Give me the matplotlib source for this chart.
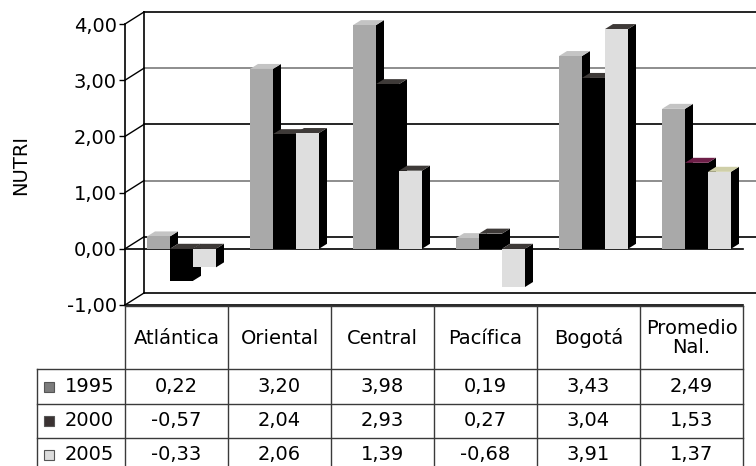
import numpy as np
import matplotlib.pyplot as plt
from matplotlib.patches import Polygon, Rectangle

plt.rcParams['font.family'] = ['DejaVu Sans']

regiones = ["Atlántica", "Oriental", "Central", "Pacífica", "Bogotá", "Promedio\nNal."]
anios = ["1995", "2000", "2005"]
v1995 = [0.22, 3.20, 3.98, 0.19, 3.43, 2.49]
v2000 = [-0.57, 2.04, 2.93, 0.27, 3.04, 1.53]
v2005 = [-0.33, 2.06, 1.39, -0.68, 3.91, 1.37]
yticks = [-1, 0, 1, 2, 3, 4]

series = [v1995, v2000, v2005]
front_col = ['#a9a9a9', '#000000', '#dedede']
top_col = ['#c4c4c4', '#3e3a38', '#3e3a38']
leg_col = ['#7c7c7c', '#3a3232', '#dcdcdc']
# odd coloured tops on the last group
top_fix = {(1, 5): '#6e1f48', (2, 5): '#cfcfa8'}


def fmt(v):
    return f"{v:.2f}".replace('.', ',')


W, H = 756, 466
fig = plt.figure(figsize=(W / 100, H / 100), dpi=100)

# front plane: x 125..743 px, y 4 -> 24 px, -1 -> 305 px
ax = fig.add_axes([125 / W, 1 - 305 / H, 618 / W, 281 / H])
ax.set_xlim(0, 6)
ax.set_ylim(-1, 4)

px_x = 618 / 6
px_y = 281 / 5
bw = 23 / px_x
off0 = 22 / px_x
ddx, ddy = 8 / px_x, 5 / px_y      # bar depth
wdx, wdy = 19 / px_x, 12 / px_y    # wall depth

# walls
for t in yticks:
    c = '#000000' if t % 2 == 0 or t in (-1, 4) else '#7a7a7a'
    ax.plot([wdx, 6.4], [t + wdy, t + wdy], color=c, lw=1.2, zorder=0.5, clip_on=False)
    ax.plot([0, wdx], [t, t + wdy], color='black', lw=1, zorder=0.5, clip_on=False)
ax.plot([wdx, wdx], [-1 + wdy, 4 + wdy], color='black', lw=1.2, zorder=0.5, clip_on=False)
ax.plot([0, 6], [0, 0], color='black', lw=1.2, zorder=1, clip_on=False)
ax.plot([0, 6], [-1, -1], color='black', lw=1.2, zorder=1, clip_on=False)

x = np.arange(len(regiones))
for i, vals in enumerate(series):
    x0 = x + off0 + i * bw
    z = 2 + i
    ax.bar(x0, vals, bw, align='edge', color=front_col[i], linewidth=0, zorder=z, clip_on=False)
    for g, (xl, v) in enumerate(zip(x0, vals)):
        hi, lo = max(v, 0), min(v, 0)
        xr = xl + bw
        side = [(xr, lo), (xr + ddx, lo + ddy), (xr + ddx, hi + ddy), (xr, hi)]
        top = [(xl, hi), (xl + ddx, hi + ddy), (xr + ddx, hi + ddy), (xr, hi)]
        ax.add_patch(Polygon(side, closed=True, fc='black', ec='none', zorder=z - 0.5, clip_on=False))
        ax.add_patch(Polygon(top, closed=True, fc=top_fix.get((i, g), top_col[i]), ec='none',
                             zorder=z - 0.4, clip_on=False))

for s in ['top', 'right', 'bottom']:
    ax.spines[s].set_visible(False)
ax.spines['left'].set_linewidth(1.2)
ax.patch.set_visible(False)
ax.set_xticks([])
ax.set_yticks(yticks, [fmt(t) for t in yticks])
ax.tick_params(axis='y', length=4, width=1, pad=2, labelsize=14)

fig.text(21 / W, 1 - 165 / H, 'NUTRI', rotation=90, ha='center', va='center', fontsize=14)

# data table below, y in pixel units from 306 px down
tax = fig.add_axes([125 / W, 1 - 472 / H, 618 / W, 166 / H])
tax.set_xlim(0, 6)
tax.set_ylim(166, 0)
tax.axis('off')
lc = '#3a3a3a'
xl_tab = (37 - 125) / px_x
rows = [0, 63, 98, 132, 166]
tax.plot([0, 6], [0, 0], color=lc, lw=1, clip_on=False)
for k in range(7):
    tax.plot([k, k], [0, 166], color=lc, lw=1, clip_on=False)
for r in rows[1:4]:
    tax.plot([xl_tab, 6], [r, r], color=lc, lw=1, clip_on=False)
tax.plot([xl_tab, xl_tab], [63, 166], color=lc, lw=1, clip_on=False)

for g, name in enumerate(regiones):
    tax.text(g + 0.5, 32, name, ha='center', va='center', fontsize=14, linespacing=1.05)
for i, vals in enumerate(series):
    yc = (rows[i + 1] + rows[i + 2]) / 2
    tax.add_patch(Rectangle((-0.79, yc - 5), 10 / px_x, 10, fc=leg_col[i], ec='#555555',
                            lw=0.8, clip_on=False))
    tax.text(-0.585, yc, anios[i], ha='left', va='center', fontsize=14, clip_on=False)
    for g, v in enumerate(vals):
        tax.text(g + 0.5, yc, fmt(v), ha='center', va='center', fontsize=14)

fig.savefig('out.png', dpi=100)
